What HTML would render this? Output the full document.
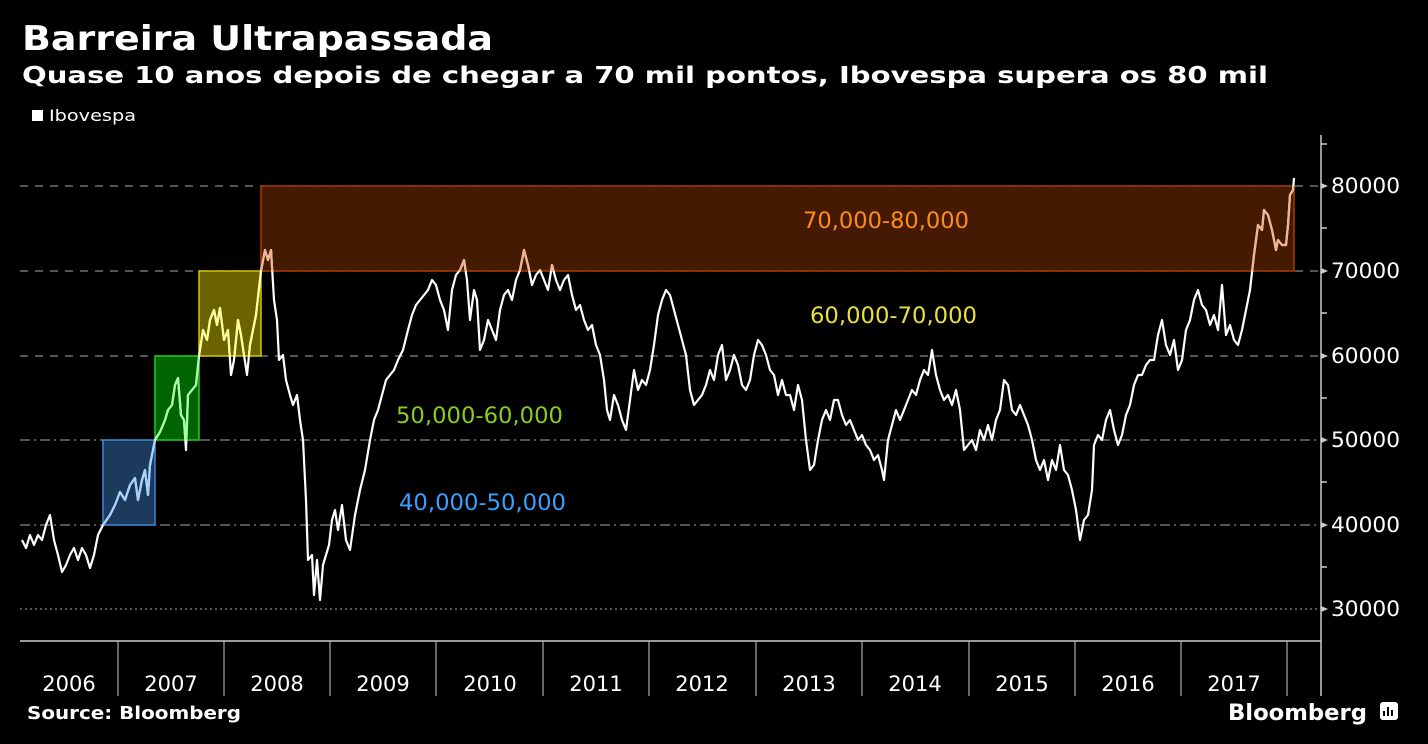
<!DOCTYPE html><html><head><meta charset="utf-8"><style>body{margin:0;background:#000;}svg{display:block}text{font-family:"DejaVu Sans","Liberation Sans",sans-serif}</style></head><body>
<svg width="1428" height="744" viewBox="0 0 1428 744">
<rect width="1428" height="744" fill="#000"/>
<text x="22" y="50" fill="#fff" font-size="34" font-weight="bold" textLength="471" lengthAdjust="spacingAndGlyphs">Barreira Ultrapassada</text>
<text x="22" y="83" fill="#fff" font-size="23" font-weight="bold" textLength="1246" lengthAdjust="spacingAndGlyphs">Quase 10 anos depois de chegar a 70 mil pontos, Ibovespa supera os 80 mil</text>
<rect x="32" y="110" width="11" height="11" fill="#fff"/>
<text x="49" y="121" fill="#fff" font-size="16" textLength="87" lengthAdjust="spacingAndGlyphs">Ibovespa</text>
<g stroke="#888" stroke-width="1.2">
<line x1="20" y1="186" x2="1320" y2="186" stroke-dasharray="8,7"/>
<line x1="20" y1="271" x2="1320" y2="271" stroke-dasharray="8,7"/>
<line x1="20" y1="356" x2="1320" y2="356" stroke-dasharray="8,7"/>
<line x1="20" y1="440" x2="1320" y2="440" stroke-dasharray="10,4,2,4"/>
<line x1="20" y1="525" x2="1320" y2="525" stroke-dasharray="10,4,2,4"/>
<line x1="20" y1="609" x2="1320" y2="609" stroke-dasharray="2,3"/>
</g>
<rect x="103" y="440" width="52" height="85" fill="#1b3a5c" stroke="#3a8ad6" stroke-width="1.5"/>
<rect x="155" y="356" width="44" height="84" fill="#006400" stroke="#22cc22" stroke-width="1.5"/>
<rect x="199" y="271" width="62" height="85" fill="#6b6200" stroke="#d4c800" stroke-width="1.5"/>
<rect x="261" y="186" width="1033" height="85" fill="#451a03" stroke="#a63a00" stroke-width="1.5"/>
<defs>
<clipPath id="cb"><rect x="103" y="440" width="52" height="85"/></clipPath>
<clipPath id="cg"><rect x="155" y="356" width="44" height="84"/></clipPath>
<clipPath id="cy"><rect x="199" y="271" width="62" height="85"/></clipPath>
<clipPath id="co"><rect x="261" y="186" width="1033" height="85"/></clipPath>
<polyline id="ln" fill="none" stroke-width="2.2" stroke-linejoin="round" points="22,540 26,548 30,535 34,545 38,535 42,540 46,525 50,515 54,540 58,555 62,572 66,565 70,555 74,548 78,560 82,548 86,555 90,568 94,555 98,535 103,525 110,515 115,505 120,492 125,500 130,485 135,478 138,500 142,480 145,470 148,495 150,465 155,440 160,432 165,420 168,410 172,405 175,385 178,378 181,415 184,420 186,450 188,395 192,390 196,385 199,356 203,330 207,340 210,320 214,310 217,325 220,308 224,340 228,330 231,375 234,360 238,320 241,335 244,355 247,375 250,345 253,330 256,315 261,271 265,250 268,260 271,250 274,300 277,320 279,360 283,355 286,380 290,395 293,405 297,395 300,420 303,440 306,500 308,560 312,555 314,595 317,560 320,600 323,565 326,555 329,545 332,520 335,510 338,530 342,505 346,540 350,550 355,515 360,490 365,470 370,440 374,420 378,410 382,395 386,380 390,375 394,370 398,360 403,350 408,330 412,315 416,305 420,300 424,295 428,290 432,280 436,285 440,300 444,310 448,330 452,290 456,275 460,270 464,260 467,280 470,320 474,290 477,300 480,350 484,340 488,320 492,330 496,340 500,310 504,295 508,290 512,300 516,280 520,270 524,250 528,265 532,285 536,275 540,270 544,280 548,290 552,265 556,280 560,290 564,280 568,275 572,295 576,310 580,305 584,320 588,330 592,325 596,345 600,355 604,380 607,410 610,420 614,395 618,405 622,420 626,430 630,400 634,370 638,390 642,380 646,385 650,370 654,345 658,315 662,300 666,290 670,295 674,310 678,325 682,340 686,355 690,390 694,405 698,400 702,395 706,385 710,370 714,380 718,355 722,345 726,380 730,370 734,355 738,365 742,385 746,390 750,380 754,355 758,340 762,345 766,355 770,370 774,375 778,395 782,380 786,395 790,395 794,410 798,385 802,400 806,440 810,470 814,465 818,440 822,420 826,410 830,420 834,400 838,400 842,415 846,425 850,420 854,430 858,440 862,435 866,445 870,450 874,460 878,455 882,470 884,480 888,440 892,425 896,410 900,420 904,410 908,400 912,390 916,395 920,380 924,370 928,375 932,350 936,375 940,390 944,400 948,395 952,405 956,390 960,410 964,450 968,445 972,440 976,450 980,430 984,440 988,425 992,440 996,420 1000,410 1004,380 1008,385 1012,410 1016,415 1020,405 1024,415 1028,425 1032,440 1036,460 1040,470 1044,460 1048,480 1052,460 1056,470 1060,445 1064,470 1068,475 1072,490 1076,510 1080,540 1084,520 1088,515 1092,490 1094,445 1098,435 1102,440 1106,420 1110,410 1114,430 1118,445 1122,435 1126,415 1130,405 1134,385 1138,375 1142,375 1146,365 1150,360 1154,360 1158,335 1162,320 1166,345 1170,355 1174,340 1178,370 1182,360 1186,330 1190,320 1194,300 1198,290 1202,305 1206,310 1210,325 1214,315 1218,330 1222,285 1226,335 1230,325 1234,340 1238,345 1242,330 1246,310 1250,290 1254,255 1258,225 1262,230 1264,210 1268,215 1272,230 1276,250 1278,240 1282,245 1286,245 1288,225 1290,195 1293,190 1294,178"/>
</defs>
<use href="#ln" stroke="#fff"/>
<use href="#ln" stroke="#a8d0ff" clip-path="url(#cb)"/>
<use href="#ln" stroke="#a8ffa8" clip-path="url(#cg)"/>
<use href="#ln" stroke="#ffff99" clip-path="url(#cy)"/>
<use href="#ln" stroke="#f0b595" clip-path="url(#co)"/>
<text x="803" y="228" fill="#ff8c1a" font-size="22" textLength="166" lengthAdjust="spacingAndGlyphs">70,000-80,000</text>
<text x="810" y="323" fill="#e8e040" font-size="22" textLength="167" lengthAdjust="spacingAndGlyphs">60,000-70,000</text>
<text x="396" y="423" fill="#88cc22" font-size="22" textLength="167" lengthAdjust="spacingAndGlyphs">50,000-60,000</text>
<text x="399" y="510" fill="#3aa0ff" font-size="22" textLength="167" lengthAdjust="spacingAndGlyphs">40,000-50,000</text>
<g stroke="#ccc" stroke-width="1.5">
<line x1="1321" y1="135" x2="1321" y2="696"/>
<line x1="1321" y1="144" x2="1327" y2="144"/><line x1="1321" y1="228" x2="1327" y2="228"/><line x1="1321" y1="313" x2="1327" y2="313"/><line x1="1321" y1="398" x2="1327" y2="398"/><line x1="1321" y1="482" x2="1327" y2="482"/><line x1="1321" y1="567" x2="1327" y2="567"/>
<line x1="20" y1="641" x2="1321" y2="641"/>
</g>
<g fill="#ccc"><path d="M1321,183 l7,3 l-7,3z"/><path d="M1321,268 l7,3 l-7,3z"/><path d="M1321,353 l7,3 l-7,3z"/><path d="M1321,437 l7,3 l-7,3z"/><path d="M1321,522 l7,3 l-7,3z"/><path d="M1321,606 l7,3 l-7,3z"/></g>
<g fill="#fff" font-size="21"><text x="1331" y="193" textLength="69" lengthAdjust="spacingAndGlyphs">80000</text><text x="1331" y="278" textLength="69" lengthAdjust="spacingAndGlyphs">70000</text><text x="1331" y="363" textLength="69" lengthAdjust="spacingAndGlyphs">60000</text><text x="1331" y="447" textLength="69" lengthAdjust="spacingAndGlyphs">50000</text><text x="1331" y="532" textLength="69" lengthAdjust="spacingAndGlyphs">40000</text><text x="1331" y="616" textLength="69" lengthAdjust="spacingAndGlyphs">30000</text></g>
<g stroke="#aaa" stroke-width="1.2"><line x1="118" y1="641" x2="118" y2="696"/><line x1="224" y1="641" x2="224" y2="696"/><line x1="330" y1="641" x2="330" y2="696"/><line x1="436" y1="641" x2="436" y2="696"/><line x1="543" y1="641" x2="543" y2="696"/><line x1="649" y1="641" x2="649" y2="696"/><line x1="756" y1="641" x2="756" y2="696"/><line x1="862" y1="641" x2="862" y2="696"/><line x1="969" y1="641" x2="969" y2="696"/><line x1="1075" y1="641" x2="1075" y2="696"/><line x1="1181" y1="641" x2="1181" y2="696"/><line x1="1287" y1="641" x2="1287" y2="696"/></g>
<g fill="#fff" font-size="21" text-anchor="middle"><text x="69" y="691">2006</text><text x="171" y="691">2007</text><text x="277" y="691">2008</text><text x="383" y="691">2009</text><text x="490" y="691">2010</text><text x="596" y="691">2011</text><text x="702" y="691">2012</text><text x="809" y="691">2013</text><text x="915" y="691">2014</text><text x="1022" y="691">2015</text><text x="1128" y="691">2016</text><text x="1234" y="691">2017</text></g>
<text x="27" y="719" fill="#fff" font-size="18" font-weight="bold" textLength="214" lengthAdjust="spacingAndGlyphs">Source: Bloomberg</text>
<text x="1228" y="720" fill="#fff" font-size="22" font-weight="bold" textLength="139" lengthAdjust="spacingAndGlyphs">Bloomberg</text>
<rect x="1380" y="702" width="18" height="18" rx="3" fill="#fff"/>
<g stroke="#000" stroke-width="2"><line x1="1384" y1="716" x2="1384" y2="711"/><line x1="1388" y1="716" x2="1388" y2="707"/><line x1="1392" y1="716" x2="1392" y2="710"/></g>
</svg></body></html>
